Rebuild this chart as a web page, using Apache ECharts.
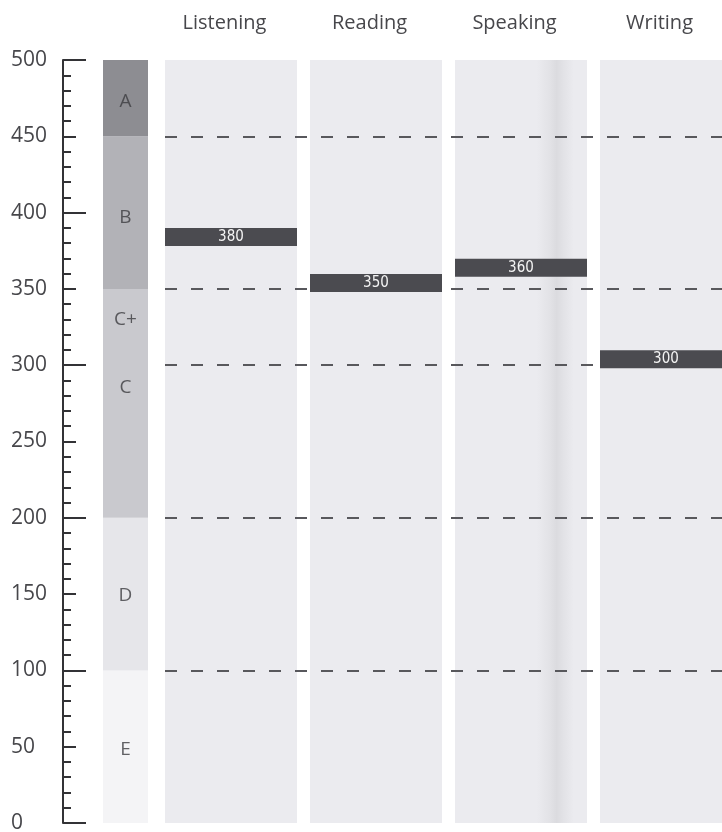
<!DOCTYPE html>
<html>
<head>
<meta charset="utf-8">
<script src="https://cdn.jsdelivr.net/npm/echarts@6/dist/echarts.min.js"></script>
<style>
html,body{margin:0;padding:0;background:#ffffff;}
#chart{width:722px;height:832px;}
</style>
</head>
<body>
<div id="chart"></div>
<script>
// ---- data ----
const categories = ['Listening', 'Reading', 'Speaking', 'Writing'];
const scores = [380, 350, 360, 300];
const yMin = 0;
const yMax = 500;
const gradeBandLower = [0, 100, 200, 350, 450];
const gradeBandUpper = [100, 200, 350, 450, 500];
const gradeLetters = ['A', 'B', 'C+', 'C', 'D', 'E'];
const gradeLetterPos = [473, 397, 330, 285, 149, 48];
const cutLines = [450, 350, 300, 200, 100];

// ---- styles ----
const bandColors = ['#f4f4f6', '#e6e6ea', '#c9c9ce', '#b2b2b7', '#8d8d92'];
const colColor = '#ebebef';
const markerColor = '#4b4b50';
const textGray = '#47474b';
const FONT = '"Open Sans", "Noto Sans", sans-serif';

const chart = echarts.init(document.getElementById('chart'), null, {renderer: 'canvas'});

const option = {
  backgroundColor: '#ffffff',
  animation: false,
  grid: [
    {left: 103, width: 45, top: 60, height: 763, outerBoundsMode: 'none', containLabel: false},
    {left: 165, width: 580, top: 60, height: 763, outerBoundsMode: 'none', containLabel: false}
  ],
  xAxis: [
    {gridIndex: 0, type: 'category', data: ['grade'], show: false},
    {
      gridIndex: 1, type: 'category', data: categories, position: 'top',
      axisLine: {show: false}, axisTick: {show: false}, splitLine: {show: false},
      axisLabel: {
        margin: 27, fontSize: 20, color: textGray, fontFamily: FONT,
        padding: [0, 26, 0, 0]
      }
    }
  ],
  yAxis: [
    {
      gridIndex: 0, type: 'value', min: yMin, max: yMax, interval: 50,
      position: 'left', offset: 40,
      axisLine: {show: true, lineStyle: {color: '#333336', width: 2}},
      axisTick: {show: true, inside: true, length: 13, lineStyle: {color: '#333336', width: 2}},
      minorTick: {show: true, splitNumber: 5, length: 8, lineStyle: {color: '#333336', width: 2}},
      splitLine: {show: false},
      axisLabel: {
        show: true, align: 'left', margin: 52, fontSize: 21,
        color: textGray, fontFamily: FONT
      }
    },
    {
      gridIndex: 0, type: 'value', min: yMin, max: yMax, interval: 100,
      position: 'left', offset: 40,
      axisLine: {show: false},
      axisTick: {show: true, inside: true, length: 23, lineStyle: {color: '#333336', width: 2}},
      axisLabel: {show: false},
      splitLine: {show: false}
    },
    {
      gridIndex: 1, type: 'value', min: yMin, max: yMax, show: false
    }
  ],
  series: [
    {
      name: 'grade bands', type: 'custom', xAxisIndex: 0, yAxisIndex: 0, silent: true,
      data: gradeBandLower.map((l, i) => [0, l, gradeBandUpper[i], i]),
      renderItem: function (params, api) {
        const p0 = api.coord([0, api.value(1)]);
        const p1 = api.coord([0, api.value(2)]);
        const w = api.size([1, 0])[0];
        return {
          type: 'rect',
          shape: {x: p0[0] - w / 2, y: p1[1], width: w, height: p0[1] - p1[1]},
          style: {fill: bandColors[api.value(3)]}
        };
      },
      z: 1
    },
    {
      name: 'grade letters', type: 'scatter', xAxisIndex: 0, yAxisIndex: 0, silent: true,
      symbolSize: 0,
      data: gradeLetters.map((g, i) => ({name: g, value: [0, gradeLetterPos[i]]})),
      label: {
        show: true, position: 'inside', formatter: '{b}',
        fontSize: 19, color: '#3c3c40', fontFamily: FONT
      },
      z: 3
    },
    {
      name: 'columns', type: 'custom', xAxisIndex: 1, yAxisIndex: 2, silent: true,
      data: categories.map((c, i) => [i]),
      renderItem: function (params, api) {
        const i = api.value(0);
        const bottom = api.coord([i, yMin]);
        const top = api.coord([i, yMax]);
        const bw = api.size([1, 0])[0];
        const cw = bw * 132 / 145;
        let fill = colColor;
        if (categories[i] === 'Speaking') {
          fill = new echarts.graphic.LinearGradient(0, 0, 1, 0, [
            {offset: 0, color: colColor},
            {offset: 0.62, color: colColor},
            {offset: 0.72, color: '#e2e2e6'},
            {offset: 0.77, color: '#dbdbdf'},
            {offset: 0.82, color: '#e2e2e6'},
            {offset: 0.9, color: colColor},
            {offset: 1, color: colColor}
          ]);
        }
        return {
          type: 'rect',
          shape: {x: bottom[0] - bw / 2, y: top[1], width: cw, height: bottom[1] - top[1]},
          style: {fill: fill}
        };
      },
      z: 1
    },
    {
      name: 'cut lines', type: 'line', xAxisIndex: 1, yAxisIndex: 2, data: [],
      silent: true, symbol: 'none',
      markLine: {
        silent: true, symbol: ['none', 'none'],
        label: {show: false},
        lineStyle: {color: '#58585c', width: 2, type: [12, 14]},
        data: cutLines.map(v => ({yAxis: v}))
      },
      z: 2
    },
    {
      name: 'scores', type: 'custom', xAxisIndex: 1, yAxisIndex: 2, silent: true,
      data: scores.map((v, i) => [i, v]),
      renderItem: function (params, api) {
        const i = api.value(0);
        const v = api.value(1);
        const p = api.coord([i, v]);
        const bw = api.size([1, 0])[0];
        const cw = bw * 132 / 145;
        const x0 = p[0] - bw / 2;
        return {
          type: 'group',
          children: [
            {
              type: 'rect',
              shape: {x: x0, y: p[1] - 15, width: cw, height: 18},
              style: {fill: markerColor}
            },
            {
              type: 'text',
              style: {
                text: String(v), x: x0 + cw / 2, y: p[1] - 6,
                align: 'center', verticalAlign: 'middle',
                fill: '#f4f4f4', fontSize: 15,
                fontFamily: '"Liberation Sans Narrow", "DejaVu Sans Condensed", sans-serif'
              }
            }
          ]
        };
      },
      z: 5
    }
  ]
};
chart.setOption(option);
</script>
</body>
</html>
